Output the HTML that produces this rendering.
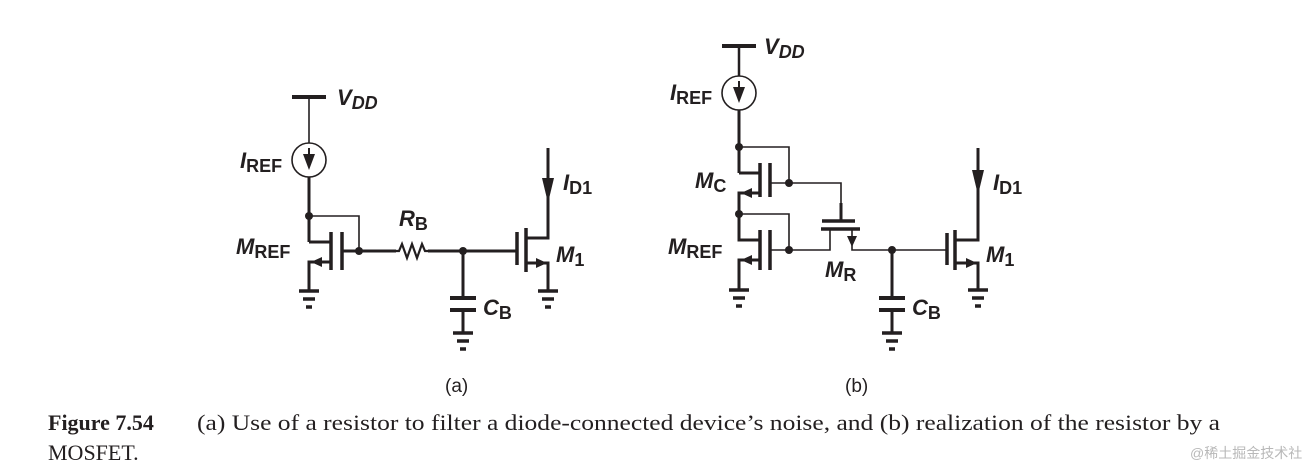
<!DOCTYPE html>
<html><head><style>html,body{margin:0;padding:0;background:#fff}svg{display:block}</style></head><body>
<svg width="1303" height="470" viewBox="0 0 1303 470" xmlns="http://www.w3.org/2000/svg">
<defs>
<g id="gnd" stroke="#231f20" stroke-width="3.5" fill="none"><line x1="-10" y1="0" x2="10" y2="0"/><line x1="-6" y1="8" x2="6" y2="8"/><line x1="-3" y1="16" x2="3" y2="16"/></g>
</defs>
<g stroke="#231f20" fill="none" stroke-linecap="butt">
<line x1="292" y1="97" x2="326" y2="97" stroke-width="4"/>
<line x1="309" y1="97" x2="309" y2="143" stroke-width="1.6"/>
<circle cx="309" cy="160" r="17" stroke-width="1.6"/>
<line x1="309" y1="177" x2="309" y2="242" stroke-width="3"/>
<polyline points="309,216 359,216 359,251" stroke-width="1.6"/>
<polyline points="309,242 331,242" stroke-width="3"/>
<line x1="331" y1="232" x2="331" y2="270" stroke-width="3.5"/>
<line x1="342" y1="232" x2="342" y2="270" stroke-width="3.5"/>
<polyline points="331,262 309,262 309,291" stroke-width="3"/>
<line x1="342" y1="251" x2="396" y2="251" stroke-width="3"/>
<polyline points="396,251 399,251 402,244 407,258 412,244 417,258 422,244 425,251 428,251" stroke-width="2.2"/>
<line x1="428" y1="251" x2="517" y2="251" stroke-width="3"/>
<line x1="517" y1="232" x2="517" y2="265" stroke-width="3.5"/>
<line x1="526" y1="228" x2="526" y2="272" stroke-width="3.5"/>
<polyline points="526,238 548,238 548,148" stroke-width="3"/>
<polyline points="526,263 548,263 548,291" stroke-width="3"/>
<line x1="463" y1="251" x2="463" y2="298" stroke-width="3"/>
<line x1="450" y1="298" x2="476" y2="298" stroke-width="4"/>
<line x1="450" y1="310" x2="476" y2="310" stroke-width="4"/>
<line x1="463" y1="310" x2="463" y2="333" stroke-width="3"/>
<line x1="722" y1="46" x2="756" y2="46" stroke-width="4"/>
<line x1="739" y1="46" x2="739" y2="76" stroke-width="2.5"/>
<circle cx="739" cy="93" r="17" stroke-width="1.6"/>
<line x1="739" y1="110" x2="739" y2="173" stroke-width="3"/>
<polyline points="739,147 789,147 789,183" stroke-width="1.6"/>
<line x1="739" y1="173" x2="760" y2="173" stroke-width="3"/>
<line x1="760" y1="163" x2="760" y2="197" stroke-width="3.5"/>
<line x1="770" y1="163" x2="770" y2="197" stroke-width="3.5"/>
<polyline points="760,193 739,193 739,240 760,240" stroke-width="3"/>
<polyline points="739,214 789,214 789,250" stroke-width="1.6"/>
<polyline points="770,183 841,183 841,203" stroke-width="1.6"/>
<line x1="841" y1="203" x2="841" y2="221" stroke-width="3"/>
<line x1="822" y1="221" x2="855" y2="221" stroke-width="3.5"/>
<line x1="821" y1="229" x2="860" y2="229" stroke-width="3.5"/>
<polyline points="830,229 830,250 770,250" stroke-width="1.6"/>
<polyline points="852,229 852,250 947,250" stroke-width="1.6"/>
<line x1="760" y1="230" x2="760" y2="270" stroke-width="3.5"/>
<line x1="770" y1="230" x2="770" y2="270" stroke-width="3.5"/>
<polyline points="760,260 739,260 739,290" stroke-width="3"/>
<line x1="947" y1="233" x2="947" y2="265" stroke-width="3.5"/>
<line x1="955" y1="230" x2="955" y2="270" stroke-width="3.5"/>
<polyline points="955,240 978,240 978,148" stroke-width="3"/>
<polyline points="955,263 978,263 978,290" stroke-width="3"/>
<line x1="892" y1="250" x2="892" y2="298" stroke-width="3"/>
<line x1="879" y1="298" x2="905" y2="298" stroke-width="4"/>
<line x1="879" y1="310" x2="905" y2="310" stroke-width="4"/>
<line x1="892" y1="310" x2="892" y2="333" stroke-width="3"/>
</g>
<g fill="#231f20">
<circle cx="309" cy="216" r="4"/><circle cx="359" cy="251" r="4"/><circle cx="463" cy="251" r="4"/>
<circle cx="739" cy="147" r="4"/><circle cx="789" cy="183" r="4"/><circle cx="739" cy="214" r="4"/><circle cx="789" cy="250" r="4"/><circle cx="892" cy="250" r="4"/>
<polygon points="303,154 315,154 309,170"/><rect x="308" y="148" width="2" height="8"/>
<polygon points="733,87 745,87 739,103"/><rect x="738" y="81" width="2" height="8"/>
<polygon points="311,262 322,257 322,267"/>
<polygon points="741,193 752,188 752,198"/>
<polygon points="741,260 752,255 752,265"/>
<polygon points="547,263 536,258 536,268"/>
<polygon points="977,263 966,258 966,268"/>
<polygon points="542,178 554,178 548,203"/>
<polygon points="972,170 984,170 978,195"/>
<polygon points="847,236 857,236 852,247"/>
</g>
<use href="#gnd" x="309" y="291"/><use href="#gnd" x="548" y="291"/><use href="#gnd" x="463" y="333"/>
<use href="#gnd" x="739" y="290"/><use href="#gnd" x="978" y="290"/><use href="#gnd" x="892" y="333"/>
<g font-family="Liberation Sans, sans-serif" font-weight="bold" fill="#231f20" font-size="22">
<text x="337" y="105"><tspan font-style="italic">V</tspan><tspan font-style="italic" font-size="18" dy="4">DD</tspan></text>
<text x="240" y="168"><tspan font-style="italic">I</tspan><tspan font-size="18" dy="4">REF</tspan></text>
<text x="236" y="254"><tspan font-style="italic">M</tspan><tspan font-size="18" dy="4">REF</tspan></text>
<text x="399" y="226"><tspan font-style="italic">R</tspan><tspan font-size="18" dy="4">B</tspan></text>
<text x="563" y="190"><tspan font-style="italic">I</tspan><tspan font-size="18" dy="4">D1</tspan></text>
<text x="556" y="262"><tspan font-style="italic">M</tspan><tspan font-size="18" dy="4">1</tspan></text>
<text x="483" y="315"><tspan font-style="italic">C</tspan><tspan font-size="18" dy="4">B</tspan></text>
<text x="764" y="54"><tspan font-style="italic">V</tspan><tspan font-style="italic" font-size="18" dy="4">DD</tspan></text>
<text x="670" y="100"><tspan font-style="italic">I</tspan><tspan font-size="18" dy="4">REF</tspan></text>
<text x="695" y="188"><tspan font-style="italic">M</tspan><tspan font-size="18" dy="4">C</tspan></text>
<text x="668" y="254"><tspan font-style="italic">M</tspan><tspan font-size="18" dy="4">REF</tspan></text>
<text x="825" y="277"><tspan font-style="italic">M</tspan><tspan font-size="18" dy="4">R</tspan></text>
<text x="993" y="190"><tspan font-style="italic">I</tspan><tspan font-size="18" dy="4">D1</tspan></text>
<text x="986" y="262"><tspan font-style="italic">M</tspan><tspan font-size="18" dy="4">1</tspan></text>
<text x="912" y="315"><tspan font-style="italic">C</tspan><tspan font-size="18" dy="4">B</tspan></text>
</g>
<g font-family="Liberation Sans, sans-serif" fill="#231f20" font-size="19">
<text x="445" y="392">(a)</text>
<text x="845" y="392">(b)</text>
</g>
<g font-family="Liberation Serif, serif" fill="#231f20" font-size="22">
<text x="48" y="430"><tspan font-weight="bold">Figure 7.54</tspan></text>
<text x="197" y="430" textLength="1023" lengthAdjust="spacingAndGlyphs">(a) Use of a resistor to filter a diode-connected device’s noise, and (b) realization of the resistor by a</text>
<text x="48" y="460">MOSFET.</text>
</g>
<text x="1190" y="458" font-family="Liberation Sans, 'Noto Sans CJK SC', sans-serif" font-size="14" fill="#b8b8b8">@稀土掘金技术社区</text>
</svg>
</body></html>
